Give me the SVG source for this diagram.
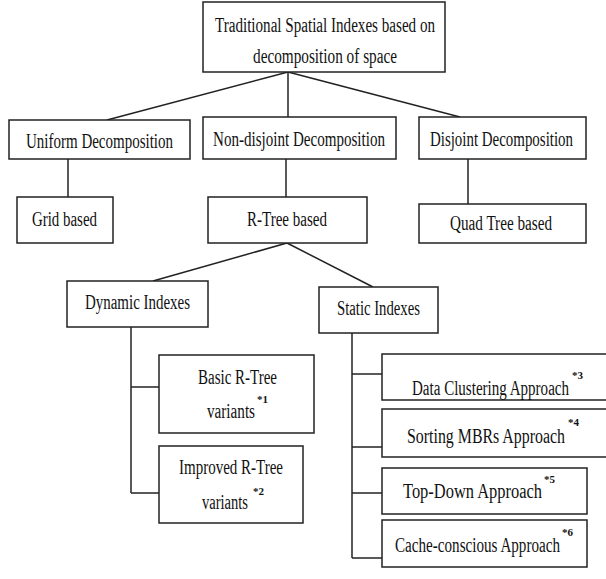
<svg xmlns="http://www.w3.org/2000/svg" width="606" height="579" viewBox="0 0 606 579">
<style>
rect{fill:#fff;stroke:#222;stroke-width:1.5}
text{font-family:"Liberation Serif","DejaVu Serif","Times New Roman",serif;font-size:20px;fill:#111;text-anchor:middle}
.s{font-size:11px;font-weight:bold;text-anchor:start}
#connectors line{stroke:#222;stroke-width:1.5}
</style>
<rect x="0" y="0" width="606" height="579" style="fill:#fff;stroke:none"/>
<g id="connectors">
<line x1="288" y1="72" x2="107" y2="120"/>
<line x1="288" y1="72" x2="288" y2="117"/>
<line x1="288" y1="72" x2="460" y2="117"/>
<line x1="68" y1="159" x2="68" y2="197"/>
<line x1="286" y1="159" x2="286" y2="197"/>
<line x1="468" y1="159" x2="468" y2="204"/>
<line x1="287" y1="243" x2="153" y2="281"/>
<line x1="287" y1="243" x2="373" y2="287"/>
<line x1="131" y1="327" x2="131" y2="493"/>
<line x1="131" y1="387" x2="159" y2="387"/>
<line x1="131" y1="493" x2="159" y2="493"/>
<line x1="352" y1="333" x2="352" y2="558"/>
<line x1="352" y1="374" x2="382" y2="374"/>
<line x1="352" y1="447" x2="382" y2="447"/>
<line x1="352" y1="493" x2="382" y2="493"/>
<line x1="352" y1="558" x2="382" y2="558"/>
</g>
<g id="root">
<rect x="203" y="2" width="242" height="70"/>
<text x="325" y="32" textLength="220" lengthAdjust="spacingAndGlyphs">Traditional Spatial Indexes based on</text>
<text x="325" y="63" textLength="144" lengthAdjust="spacingAndGlyphs">decomposition of space</text>
</g>
<g id="uniform">
<rect x="9" y="120" width="181" height="39"/>
<text x="99.5" y="148" textLength="147" lengthAdjust="spacingAndGlyphs">Uniform Decomposition</text>
</g>
<g id="nondisjoint">
<rect x="203" y="117" width="193" height="42"/>
<text x="299" y="146" textLength="172" lengthAdjust="spacingAndGlyphs">Non-disjoint Decomposition</text>
</g>
<g id="disjoint">
<rect x="419" y="117" width="167" height="42"/>
<text x="501.5" y="146" textLength="143" lengthAdjust="spacingAndGlyphs">Disjoint Decomposition</text>
</g>
<g id="grid">
<rect x="17" y="197" width="96" height="46"/>
<text x="64.5" y="226" textLength="65" lengthAdjust="spacingAndGlyphs">Grid based</text>
</g>
<g id="rtree">
<rect x="208" y="197" width="159" height="46"/>
<text x="287" y="226" textLength="80" lengthAdjust="spacingAndGlyphs">R-Tree based</text>
</g>
<g id="quad">
<rect x="419" y="204" width="167" height="39"/>
<text x="501" y="230" textLength="102" lengthAdjust="spacingAndGlyphs">Quad Tree based</text>
</g>
<g id="dynamic">
<rect x="67" y="281" width="141" height="46"/>
<text x="137.5" y="309" textLength="105" lengthAdjust="spacingAndGlyphs">Dynamic Indexes</text>
</g>
<g id="static">
<rect x="319" y="287" width="119" height="46"/>
<text x="378.5" y="315" textLength="83" lengthAdjust="spacingAndGlyphs">Static Indexes</text>
</g>
<g id="basic">
<rect x="159" y="355" width="155" height="78"/>
<text x="237.5" y="384" textLength="79" lengthAdjust="spacingAndGlyphs">Basic R-Tree</text>
<text x="231" y="418" textLength="48" lengthAdjust="spacingAndGlyphs">variants</text>
<text class="s" x="257" y="403">*1</text>
</g>
<g id="improved">
<rect x="159" y="446" width="144" height="77"/>
<text x="231" y="474" textLength="104" lengthAdjust="spacingAndGlyphs">Improved R-Tree</text>
<text x="225" y="509" textLength="46" lengthAdjust="spacingAndGlyphs">variants</text>
<text class="s" x="253" y="495">*2</text>
</g>
<g id="clustering">
<rect x="382" y="354" width="230" height="46"/>
<text x="490.5" y="395" textLength="157" lengthAdjust="spacingAndGlyphs">Data Clustering Approach</text>
<text class="s" x="572" y="379">*3</text>
</g>
<g id="sorting">
<rect x="382" y="409" width="230" height="48"/>
<text x="486" y="443" textLength="158" lengthAdjust="spacingAndGlyphs">Sorting MBRs Approach</text>
<text class="s" x="568" y="426">*4</text>
</g>
<g id="topdown">
<rect x="382" y="468" width="205" height="46"/>
<text x="472.5" y="498" textLength="139" lengthAdjust="spacingAndGlyphs">Top-Down Approach</text>
<text class="s" x="544" y="483">*5</text>
</g>
<g id="cache">
<rect x="382" y="520" width="205" height="47"/>
<text x="477.5" y="552" textLength="165" lengthAdjust="spacingAndGlyphs">Cache-conscious Approach</text>
<text class="s" x="562" y="536">*6</text>
</g>
</svg>
